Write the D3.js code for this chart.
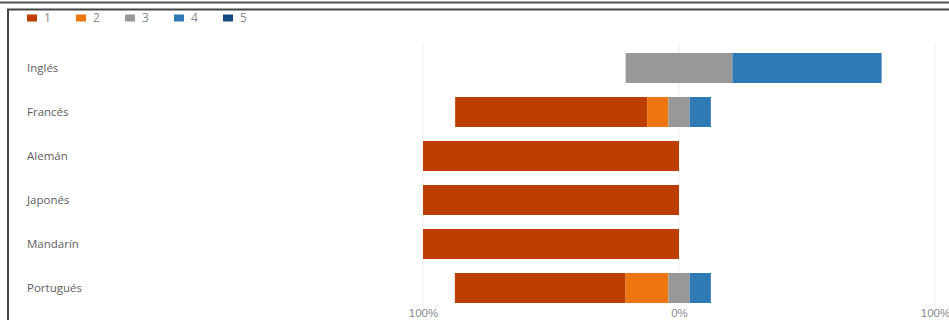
<!DOCTYPE html>
<html lang="es">
<head>
<meta charset="utf-8">
<title>Idiomas</title>
<script src="https://cdn.jsdelivr.net/npm/d3@7"></script>
<style type="text/css">
body { margin: 0; background: #fff; }
svg  { display: block; font-family: "Open Sans", "Noto Sans", sans-serif; }
.label { fill: #5e5e5e; font-size: 11.5px; }
.tick text { fill: #8a8a8a; font-size: 11.5px; }
</style>
</head>
<body>
<script type="text/javascript">

// categories and answer levels
var categories = ["Inglés", "Francés", "Alemán", "Japonés", "Mandarín", "Portugués"];
var levels = ["1", "2", "3", "4", "5"];

// percentage of answers per level
var s1 = [0, 75, 100, 100, 100, 66.7];
var s2 = [0, 8.3, 0, 0, 0, 16.7];
var s3 = [41.7, 8.3, 0, 0, 0, 8.3];
var s4 = [58.3, 8.3, 0, 0, 0, 8.3];
var s5 = [0, 0, 0, 0, 0, 0];

var tickValues = [-100, 0, 100];
var tickLabels = ["100%", "0%", "100%"];

var colors = ["#bd3e02", "#ee7611", "#989898", "#2f79b5", "#134b7e"];

var W = 949, H = 320;
var svg = d3.select("body").append("svg").attr("width", W).attr("height", H);

// frame
svg.append("line").attr("x1", 0).attr("x2", W).attr("y1", 2.5).attr("y2", 2.5)
   .attr("stroke", "#555").attr("stroke-width", 2);
svg.append("path").attr("d", "M8,320V9.5H949")
   .attr("fill", "none").attr("stroke", "#444").attr("stroke-width", 2);

var x = d3.scaleLinear().domain([-100, 100]).range([423, 935]);
var y = d3.scaleBand().domain(categories).range([46, 310])
          .paddingInner(0.318).paddingOuter(0.159);

// gridlines
svg.selectAll(".grid").data(tickValues).enter().append("line")
   .attr("class", "grid")
   .attr("x1", function(d) { return x(d); }).attr("x2", function(d) { return x(d); })
   .attr("y1", 44).attr("y2", 306)
   .attr("stroke", "#eee").attr("stroke-width", 1);

// x axis labels
var axis = svg.append("g").attr("transform", "translate(0,306)")
   .call(d3.axisBottom(x).tickValues(tickValues).tickSize(0)
           .tickFormat(function(d, i) { return tickLabels[i]; }));
axis.select(".domain").remove();

// stacked diverging rows
var series = [s1, s2, s3, s4, s5];
var rows = categories.map(function(c, i) {
  var vals = series.map(function(s) { return s[i]; });
  var start = -(vals[0] + vals[1] + vals[2] / 2);
  var segs = [];
  vals.forEach(function(v, k) {
    if (v > 0) segs.push({ cat: c, k: k, x0: start, x1: start + v });
    start += v;
  });
  return segs;
});

svg.selectAll(".row").data(rows).enter().append("g").attr("class", "row")
   .selectAll("rect").data(function(d) { return d; }).enter().append("rect")
   .attr("x", function(d) { return x(d.x0); })
   .attr("width", function(d) { return x(d.x1) - x(d.x0); })
   .attr("y", function(d) { return y(d.cat); })
   .attr("height", y.bandwidth())
   .attr("fill", function(d) { return colors[d.k]; });

// category labels
svg.selectAll(".label").data(categories).enter().append("text")
   .attr("class", "label")
   .attr("x", 27)
   .attr("y", function(d) { return y(d) + y.bandwidth() / 2; })
   .attr("dy", "0.35em")
   .text(function(d) { return d; });

// legend
var lg = svg.selectAll(".lg").data(levels).enter().append("g")
   .attr("class", "lg")
   .attr("transform", function(d, i) { return "translate(" + (27 + i * 49) + ",18)"; });
lg.append("rect").attr("width", 10).attr("height", 7).attr("y", -3.5)
   .attr("fill", function(d, i) { return colors[i]; });
lg.append("text").attr("x", 17).attr("dy", "0.35em")
   .attr("fill", "#888").style("font-size", "12px")
   .text(function(d) { return d; });

</script>
</body>
</html>
